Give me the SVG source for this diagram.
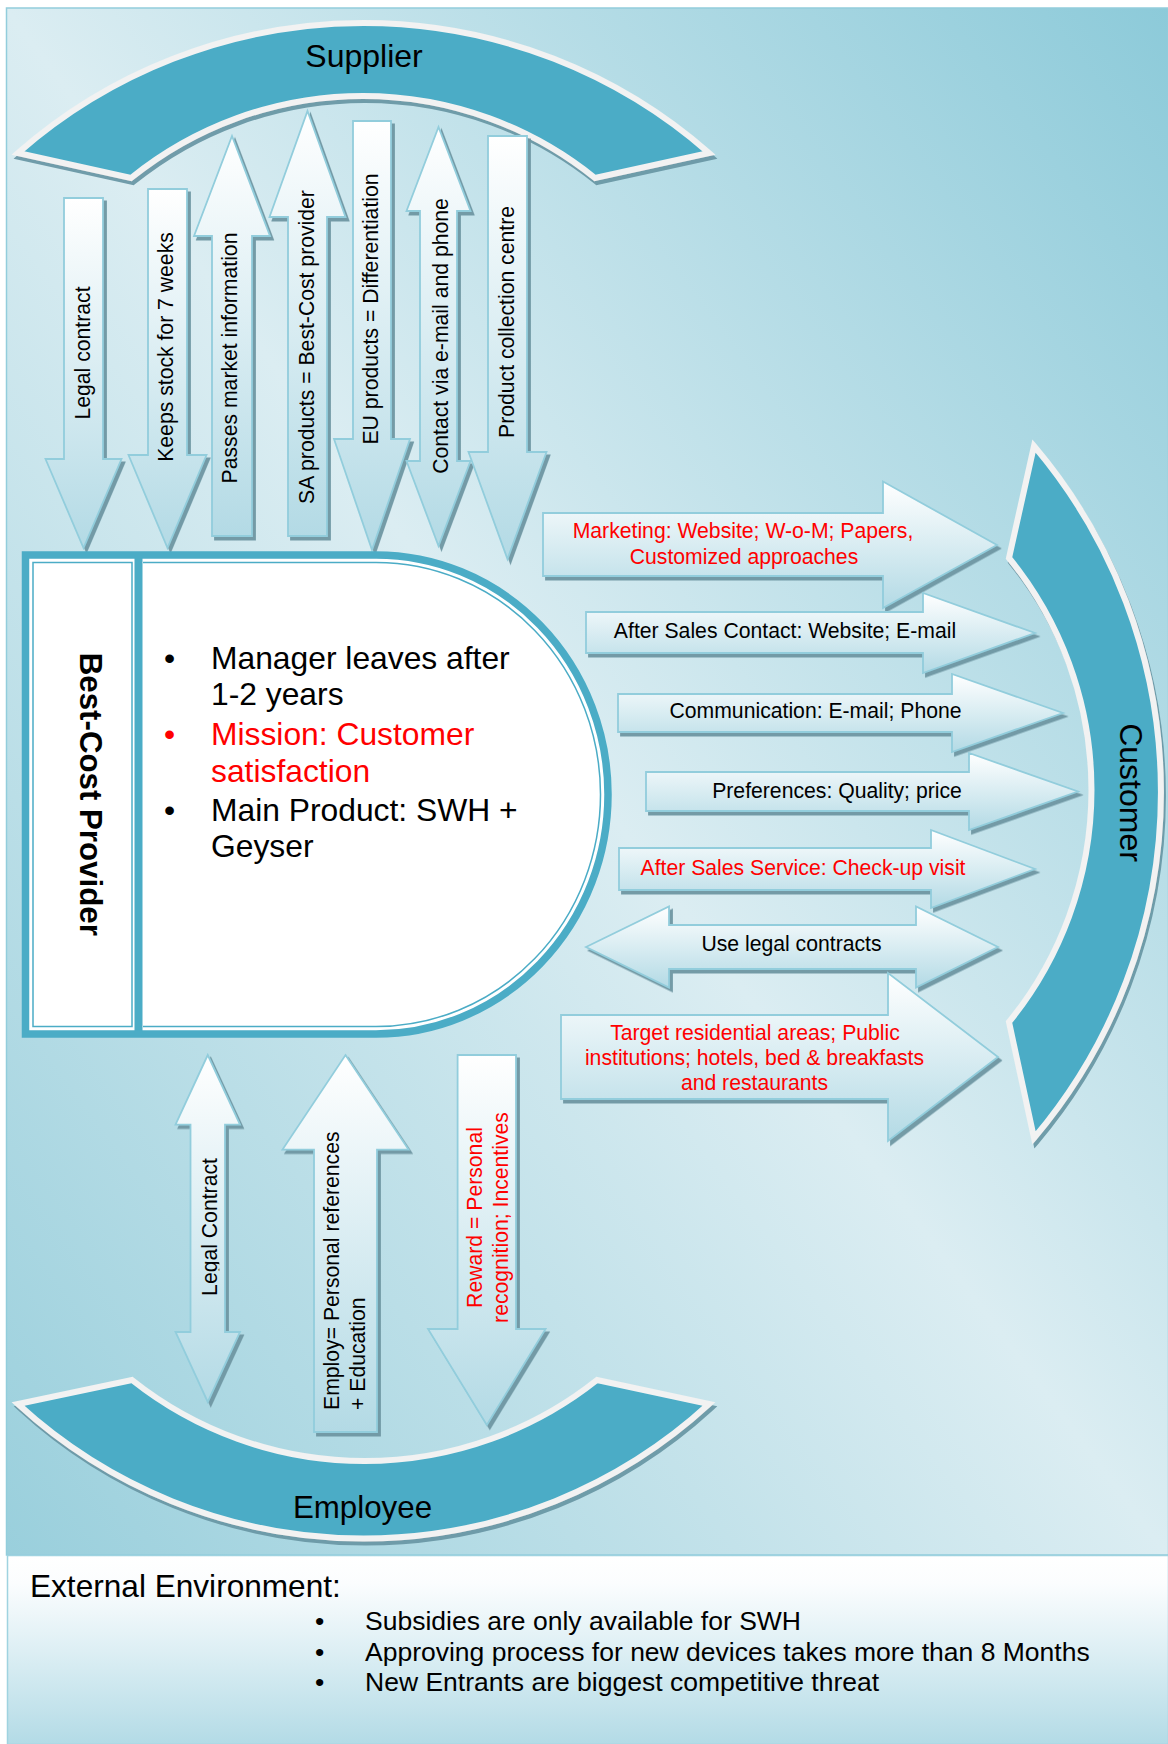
<svg xmlns="http://www.w3.org/2000/svg" width="1168" height="1744" viewBox="0 0 1168 1744">
  <defs>
    <!-- panel backdrop: darker toward top-right and bottom-left corners -->
    <linearGradient id="bg" gradientUnits="userSpaceOnUse" x1="1331" y1="217" x2="-163" y2="1339">
      <stop offset="0" stop-color="#8ccad9"/>
      <stop offset="0.5" stop-color="#dbedf2"/>
      <stop offset="1" stop-color="#99cfdc"/>
    </linearGradient>
    <linearGradient id="env" x1="0" y1="0" x2="0" y2="1">
      <stop offset="0" stop-color="#ffffff"/>
      <stop offset="0.15" stop-color="#fbfdfe"/>
      <stop offset="1" stop-color="#b3dbe6"/>
    </linearGradient>
    <linearGradient id="ag" x1="0" y1="0" x2="0" y2="1">
      <stop offset="0" stop-color="#ffffff"/>
      <stop offset="1" stop-color="#b3dae5"/>
    </linearGradient>
    <filter id="sh" x="-10%" y="-10%" width="125%" height="125%">
      <feDropShadow dx="3" dy="3.5" stdDeviation="0.6" flood-color="#6e96a3" flood-opacity="0.95"/>
    </filter>
    <filter id="shArc" x="-5%" y="-5%" width="112%" height="115%">
      <feDropShadow dx="2" dy="4" stdDeviation="0.6" flood-color="#6a98a6" flood-opacity="0.95"/>
    </filter>
    <!-- the label box trims the descender of the rotated label -->
    <clipPath id="clipLegal" clipPathUnits="userSpaceOnUse">
      <rect x="150" y="1100" width="69.3" height="250"/>
    </clipPath>
  </defs>
  <style>
    .arr{fill:url(#ag);stroke:#92cddc;stroke-width:1.8;filter:url(#sh)}
    .band{fill:#4bacc6;stroke:#f2f2f2;stroke-width:6;filter:url(#shArc)}
    .frame{fill:none;stroke:#4bacc6}
    text{font-family:"Liberation Sans",Arial,sans-serif;fill:#000}
    .lb{font-size:21.2px}
    .red{fill:#ff0000}
    .mid{text-anchor:middle}
    .big{font-size:32px}
    .body{font-size:31.8px}
    .env{font-size:26.5px}
  </style>

  <!-- backdrop panels -->
  <rect x="6.5" y="8" width="1162" height="1547" fill="url(#bg)" stroke="#92cddc" stroke-width="1.5"/>
  <rect x="7.5" y="1555.5" width="1161" height="189" fill="url(#env)" stroke="#9fd3e0" stroke-width="1.5"/>

  <!-- Supplier block arc -->
  <g id="supplier">
    <path class="band" d="M18,153 A524,524 0 0 1 709,153 L595,178 A369,369 0 0 0 131,178 Z"/>
    <text x="364" y="67" class="mid big">Supplier</text>
  </g>

  <!-- Employee block arc -->
  <g id="employee">
    <path class="band" d="M18,1404 A511,511 0 0 0 709,1404 L597,1380 A374,374 0 0 1 132,1380 Z"/>
    <text x="362.5" y="1518" class="mid" font-size="31.3px">Employee</text>
  </g>

  <!-- Customer block arc -->
  <g id="customer">
    <path class="band" d="M1034,446 A535,535 0 0 1 1034,1138 L1009,1022 A367.5,367.5 0 0 0 1009,558 Z"/>
    <text transform="translate(1120,792.5) rotate(90)" class="mid big">Customer</text>
  </g>

  <g id="connectors">
    <!-- supplier flows -->
    <g id="c-legal-contract">
      <polygon class="arr" points="64,198 103,198 103,459 121.5,459 83.5,548 45.5,459 64,459"/>
      <text transform="translate(89.7,353) rotate(-90)" class="lb mid">Legal contract</text>
    </g>
    <g id="c-keeps-stock">
      <polygon class="arr" points="148,189 187,189 187,455 206.5,455 167.5,548 128.5,455 148,455"/>
      <text transform="translate(172.7,347) rotate(-90)" class="lb mid">Keeps stock for 7 weeks</text>
    </g>
    <g id="c-market-info">
      <polygon class="arr" points="232,136 270,236 252,236 252,536 212,536 212,236 194,236"/>
      <text transform="translate(237,358) rotate(-90)" class="lb mid">Passes market information</text>
    </g>
    <g id="c-sa-products">
      <polygon class="arr" points="307.5,111 345.5,217 327,217 327,536 288,536 288,217 269.5,217"/>
      <text transform="translate(313.7,347) rotate(-90)" class="lb mid">SA products = Best-Cost provider</text>
    </g>
    <g id="c-eu-products">
      <polygon class="arr" points="353,121 391,121 391,439 410,439 372,550 334,439 353,439"/>
      <text transform="translate(378,309) rotate(-90)" class="lb mid">EU products = Differentiation</text>
    </g>
    <g id="c-contact">
      <polygon class="arr" points="438.5,127 470.5,211 457,211 457,461 470.5,461 438.5,546 406.5,461 420,461 420,211 406.5,211"/>
      <text transform="translate(447.7,336) rotate(-90)" class="lb mid">Contact via e-mail and phone</text>
    </g>
    <g id="c-collection">
      <polygon class="arr" points="488,136 527,136 527,452 546.5,452 507.5,559 468.5,452 488,452"/>
      <text transform="translate(514.3,322) rotate(-90)" class="lb mid">Product collection centre</text>
    </g>
  </g>

  <!-- Best-Cost Provider node -->
  <g id="best-cost-provider">
    <path d="M25.5,555 H376 A232,239.5 0 0 1 376,1034 H25.5 Z" fill="#ffffff" stroke="#4bacc6" stroke-width="7.5"/>
    <line x1="138.5" y1="555" x2="138.5" y2="1034" stroke="#4bacc6" stroke-width="8"/>
    <rect class="frame" x="33" y="562.5" width="99" height="464" stroke-width="1.5"/>
    <path class="frame" d="M143,562.5 H376 A224.5,232 0 0 1 376,1026.5 H143" stroke-width="1.5"/>
    <text transform="translate(79.5,794.3) rotate(90)" class="mid" font-size="31px" font-weight="bold" textLength="283" lengthAdjust="spacingAndGlyphs">Best-Cost Provider</text>
    <g class="body">
      <text x="164" y="669">•</text>
      <text x="211" y="669">Manager leaves after</text>
      <text x="211" y="705">1-2 years</text>
      <text x="164" y="745" class="red">•</text>
      <text x="211" y="745" class="red">Mission: Customer</text>
      <text x="211" y="781.5" class="red">satisfaction</text>
      <text x="164" y="820.5">•</text>
      <text x="211" y="820.5">Main Product: SWH +</text>
      <text x="211" y="857">Geyser</text>
    </g>
  </g>

  <g id="connectors-customer">
    <g id="c-marketing">
      <polygon class="arr" points="543,513 883,513 883,481.5 997,545 883,608 883,576 543,576"/>
      <text x="743" y="538" class="lb mid red">Marketing: Website; W-o-M; Papers,</text>
      <text x="744" y="563.5" class="lb mid red">Customized approaches</text>
    </g>
    <g id="c-after-sales-contact">
      <polygon class="arr" points="586,612 923,612 923,593 1035,633 923,673 923,653 586,653"/>
      <text x="785" y="638" class="lb mid">After Sales Contact: Website; E-mail</text>
    </g>
    <g id="c-communication">
      <polygon class="arr" points="618,694 952,694 952,674 1063,713 952,752 952,732 618,732"/>
      <text x="815.5" y="718" class="lb mid">Communication: E-mail; Phone</text>
    </g>
    <g id="c-preferences">
      <polygon class="arr" points="646,772 969,772 969,753 1078,791.5 969,830 969,811 646,811"/>
      <text x="837" y="798" class="lb mid">Preferences: Quality; price</text>
    </g>
    <g id="c-after-sales-service">
      <polygon class="arr" points="619,848 931,848 931,830 1035,869 931,908 931,890 619,890"/>
      <text x="803" y="875" class="lb mid red">After Sales Service: Check-up visit</text>
    </g>
    <g id="c-legal-contracts">
      <polygon class="arr" points="586,947 669,906.5 669,925 916,925 916,906.5 998,947 916,987.5 916,969 669,969 669,987.5"/>
      <text x="791.5" y="951" class="lb mid">Use legal contracts</text>
    </g>
    <g id="c-target">
      <polygon class="arr" points="561,1015 888,1015 888,973 998,1057 888,1141 888,1099 561,1099"/>
      <text x="755" y="1040" class="lb mid red">Target residential areas; Public</text>
      <text x="754.5" y="1065" class="lb mid red">institutions; hotels, bed &amp; breakfasts</text>
      <text x="754.5" y="1090" class="lb mid red">and restaurants</text>
    </g>
  </g>

  <g id="connectors-employee">
    <g id="c-employee-contract">
      <polygon class="arr" points="207.75,1055 240,1124.7 225,1124.7 225,1332 240,1332 207.75,1402 175.5,1332 190.5,1332 190.5,1124.7 175.5,1124.7"/>
      <g clip-path="url(#clipLegal)">
        <text transform="translate(217.3,1227) rotate(-90)" class="lb mid">Legal Contract</text>
      </g>
    </g>
    <g id="c-employ">
      <polygon class="arr" points="345.5,1055 408.5,1149.6 377,1149.6 377,1432 314,1432 314,1149.6 282.5,1149.6"/>
      <text transform="translate(339,1410) rotate(-90)" class="lb">Employ= Personal references</text>
      <text transform="translate(364.5,1410) rotate(-90)" class="lb">+ Education</text>
    </g>
    <g id="c-reward">
      <polygon class="arr" points="457.6,1055 516,1055 516,1329 545.6,1329 486.8,1425 428,1329 457.6,1329"/>
      <text transform="translate(482,1217.5) rotate(-90)" class="lb mid red">Reward = Personal</text>
      <text transform="translate(507.5,1217.5) rotate(-90)" class="lb mid red">recognition; Incentives</text>
    </g>
  </g>

  <!-- External Environment panel text -->
  <g id="external-environment">
    <text x="30" y="1596.5" font-size="31.6px">External Environment:</text>
    <g class="env">
      <text x="315" y="1629.5">•</text>
      <text x="365" y="1629.5">Subsidies are only available for SWH</text>
      <text x="315" y="1660.5">•</text>
      <text x="365" y="1660.5">Approving process for new devices takes more than 8 Months</text>
      <text x="315" y="1691">•</text>
      <text x="365" y="1691">New Entrants are biggest competitive threat</text>
    </g>
  </g>
</svg>
